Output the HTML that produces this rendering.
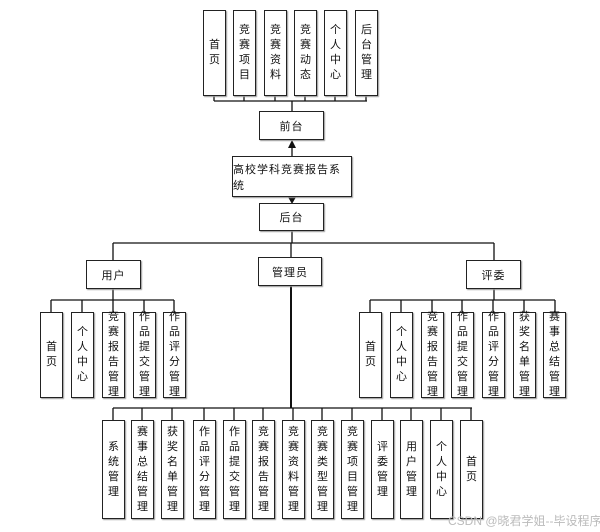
<!DOCTYPE html>
<html><head><meta charset="utf-8">
<style>
body{margin:0;background:#fff;width:600px;height:532px;position:relative;overflow:hidden;font-family:"Liberation Sans","Noto Sans CJK SC",sans-serif;}
.b{position:absolute;box-sizing:border-box;border:1.5px solid #222;background:#fff;display:flex;align-items:center;justify-content:center;font-size:11px;color:#111;box-shadow:1px 1px 1px #999;}
.v span{display:block;width:12px;line-height:15px;text-align:center;word-break:break-all;}
.h{font-size:11px;letter-spacing:1px;}
svg{position:absolute;left:0;top:0;}
.wm{position:absolute;left:448px;top:512px;font-size:12px;color:#bbb;white-space:nowrap;}
</style></head><body>
<svg width="600" height="532">
<g stroke="#111" stroke-width="1.3" fill="none">
<!-- top bus -->
<line x1="214" y1="101" x2="367" y2="101"/>
<line x1="214" y1="96" x2="214" y2="101"/><line x1="244" y1="96" x2="244" y2="101"/><line x1="275" y1="96" x2="275" y2="101"/><line x1="305" y1="96" x2="305" y2="101"/><line x1="335" y1="96" x2="335" y2="101"/><line x1="366" y1="96" x2="366" y2="101"/>
<line x1="292" y1="101" x2="292" y2="112"/>
<line x1="292" y1="147" x2="292" y2="156"/>
<line x1="292" y1="231" x2="292" y2="243"/>
<!-- mid bus -->
<line x1="113" y1="243" x2="494" y2="243"/>
<line x1="113" y1="243" x2="113" y2="261"/>
<line x1="291" y1="243" x2="291" y2="258"/>
<line x1="494" y1="243" x2="494" y2="261"/>
<!-- user -->
<line x1="113" y1="289" x2="113" y2="300"/>
<line x1="51" y1="300" x2="174" y2="300"/>
<line x1="51" y1="300" x2="51" y2="312"/><line x1="82" y1="300" x2="82" y2="312"/><line x1="113" y1="300" x2="113" y2="312"/><line x1="144" y1="300" x2="144" y2="312"/><line x1="174" y1="300" x2="174" y2="312"/>
<!-- judge -->
<line x1="494" y1="289" x2="494" y2="300"/>
<line x1="370" y1="300" x2="555" y2="300"/>
<line x1="370" y1="300" x2="370" y2="312"/><line x1="401" y1="300" x2="401" y2="312"/><line x1="432" y1="300" x2="432" y2="312"/><line x1="462" y1="300" x2="462" y2="312"/><line x1="493" y1="300" x2="493" y2="312"/><line x1="524" y1="300" x2="524" y2="312"/><line x1="555" y1="300" x2="555" y2="312"/>
<!-- admin -->
<line x1="291" y1="286" x2="291" y2="408" stroke-width="2"/>
<line x1="113" y1="408" x2="472" y2="408"/>
<line x1="113" y1="408" x2="113" y2="420"/><line x1="142" y1="408" x2="142" y2="420"/><line x1="172" y1="408" x2="172" y2="420"/><line x1="204" y1="408" x2="204" y2="420"/><line x1="234" y1="408" x2="234" y2="420"/><line x1="263" y1="408" x2="263" y2="420"/><line x1="293" y1="408" x2="293" y2="420"/><line x1="322" y1="408" x2="322" y2="420"/><line x1="352" y1="408" x2="352" y2="420"/><line x1="382" y1="408" x2="382" y2="420"/><line x1="411" y1="408" x2="411" y2="420"/><line x1="441" y1="408" x2="441" y2="420"/><line x1="471" y1="408" x2="471" y2="420"/>
</g>
<polygon points="292,140 288,148 296,148" fill="#111"/>
<polygon points="292,204 288,197 296,197" fill="#111"/>
</svg>

<!-- top row -->
<div class="b v" style="left:203px;top:10px;width:23px;height:86px"><span>首页</span></div>
<div class="b v" style="left:233px;top:10px;width:23px;height:86px"><span>竞赛项目</span></div>
<div class="b v" style="left:264px;top:10px;width:23px;height:86px"><span>竞赛资料</span></div>
<div class="b v" style="left:294px;top:10px;width:23px;height:86px"><span>竞赛动态</span></div>
<div class="b v" style="left:324px;top:10px;width:23px;height:86px"><span>个人中心</span></div>
<div class="b v" style="left:355px;top:10px;width:23px;height:86px"><span>后台管理</span></div>

<div class="b h" style="left:259px;top:111px;width:65px;height:29px">前台</div>
<div class="b h" style="left:232px;top:156px;width:120px;height:41px">高校学科竞赛报告系统</div>
<div class="b h" style="left:259px;top:203px;width:65px;height:28px">后台</div>

<div class="b h" style="left:86px;top:260px;width:55px;height:29px">用户</div>
<div class="b h" style="left:258px;top:257px;width:64px;height:29px">管理员</div>
<div class="b h" style="left:466px;top:260px;width:55px;height:29px">评委</div>

<!-- user children -->
<div class="b v" style="left:40px;top:312px;width:23px;height:86px"><span>首页</span></div>
<div class="b v" style="left:71px;top:312px;width:23px;height:86px"><span>个人中心</span></div>
<div class="b v" style="left:102px;top:312px;width:23px;height:86px"><span>竞赛报告管理</span></div>
<div class="b v" style="left:133px;top:312px;width:23px;height:86px"><span>作品提交管理</span></div>
<div class="b v" style="left:163px;top:312px;width:23px;height:86px"><span>作品评分管理</span></div>

<!-- judge children -->
<div class="b v" style="left:359px;top:312px;width:23px;height:86px"><span>首页</span></div>
<div class="b v" style="left:390px;top:312px;width:23px;height:86px"><span>个人中心</span></div>
<div class="b v" style="left:421px;top:312px;width:23px;height:86px"><span>竞赛报告管理</span></div>
<div class="b v" style="left:451px;top:312px;width:23px;height:86px"><span>作品提交管理</span></div>
<div class="b v" style="left:482px;top:312px;width:23px;height:86px"><span>作品评分管理</span></div>
<div class="b v" style="left:513px;top:312px;width:23px;height:86px"><span>获奖名单管理</span></div>
<div class="b v" style="left:543px;top:312px;width:23px;height:86px"><span>赛事总结管理</span></div>

<!-- admin children -->
<div class="b v" style="left:102px;top:420px;width:23px;height:99px"><span>系统管理</span></div>
<div class="b v" style="left:131px;top:420px;width:23px;height:99px"><span>赛事总结管理</span></div>
<div class="b v" style="left:161px;top:420px;width:23px;height:99px"><span>获奖名单管理</span></div>
<div class="b v" style="left:193px;top:420px;width:23px;height:99px"><span>作品评分管理</span></div>
<div class="b v" style="left:223px;top:420px;width:23px;height:99px"><span>作品提交管理</span></div>
<div class="b v" style="left:252px;top:420px;width:23px;height:99px"><span>竞赛报告管理</span></div>
<div class="b v" style="left:282px;top:420px;width:23px;height:99px"><span>竞赛资料管理</span></div>
<div class="b v" style="left:311px;top:420px;width:23px;height:99px"><span>竞赛类型管理</span></div>
<div class="b v" style="left:341px;top:420px;width:23px;height:99px"><span>竞赛项目管理</span></div>
<div class="b v" style="left:371px;top:420px;width:23px;height:99px"><span>评委管理</span></div>
<div class="b v" style="left:400px;top:420px;width:23px;height:99px"><span>用户管理</span></div>
<div class="b v" style="left:430px;top:420px;width:23px;height:99px"><span>个人中心</span></div>
<div class="b v" style="left:460px;top:420px;width:23px;height:99px"><span>首页</span></div>

<div class="wm">CSDN @晓君学姐--毕设程序</div>
</body></html>
